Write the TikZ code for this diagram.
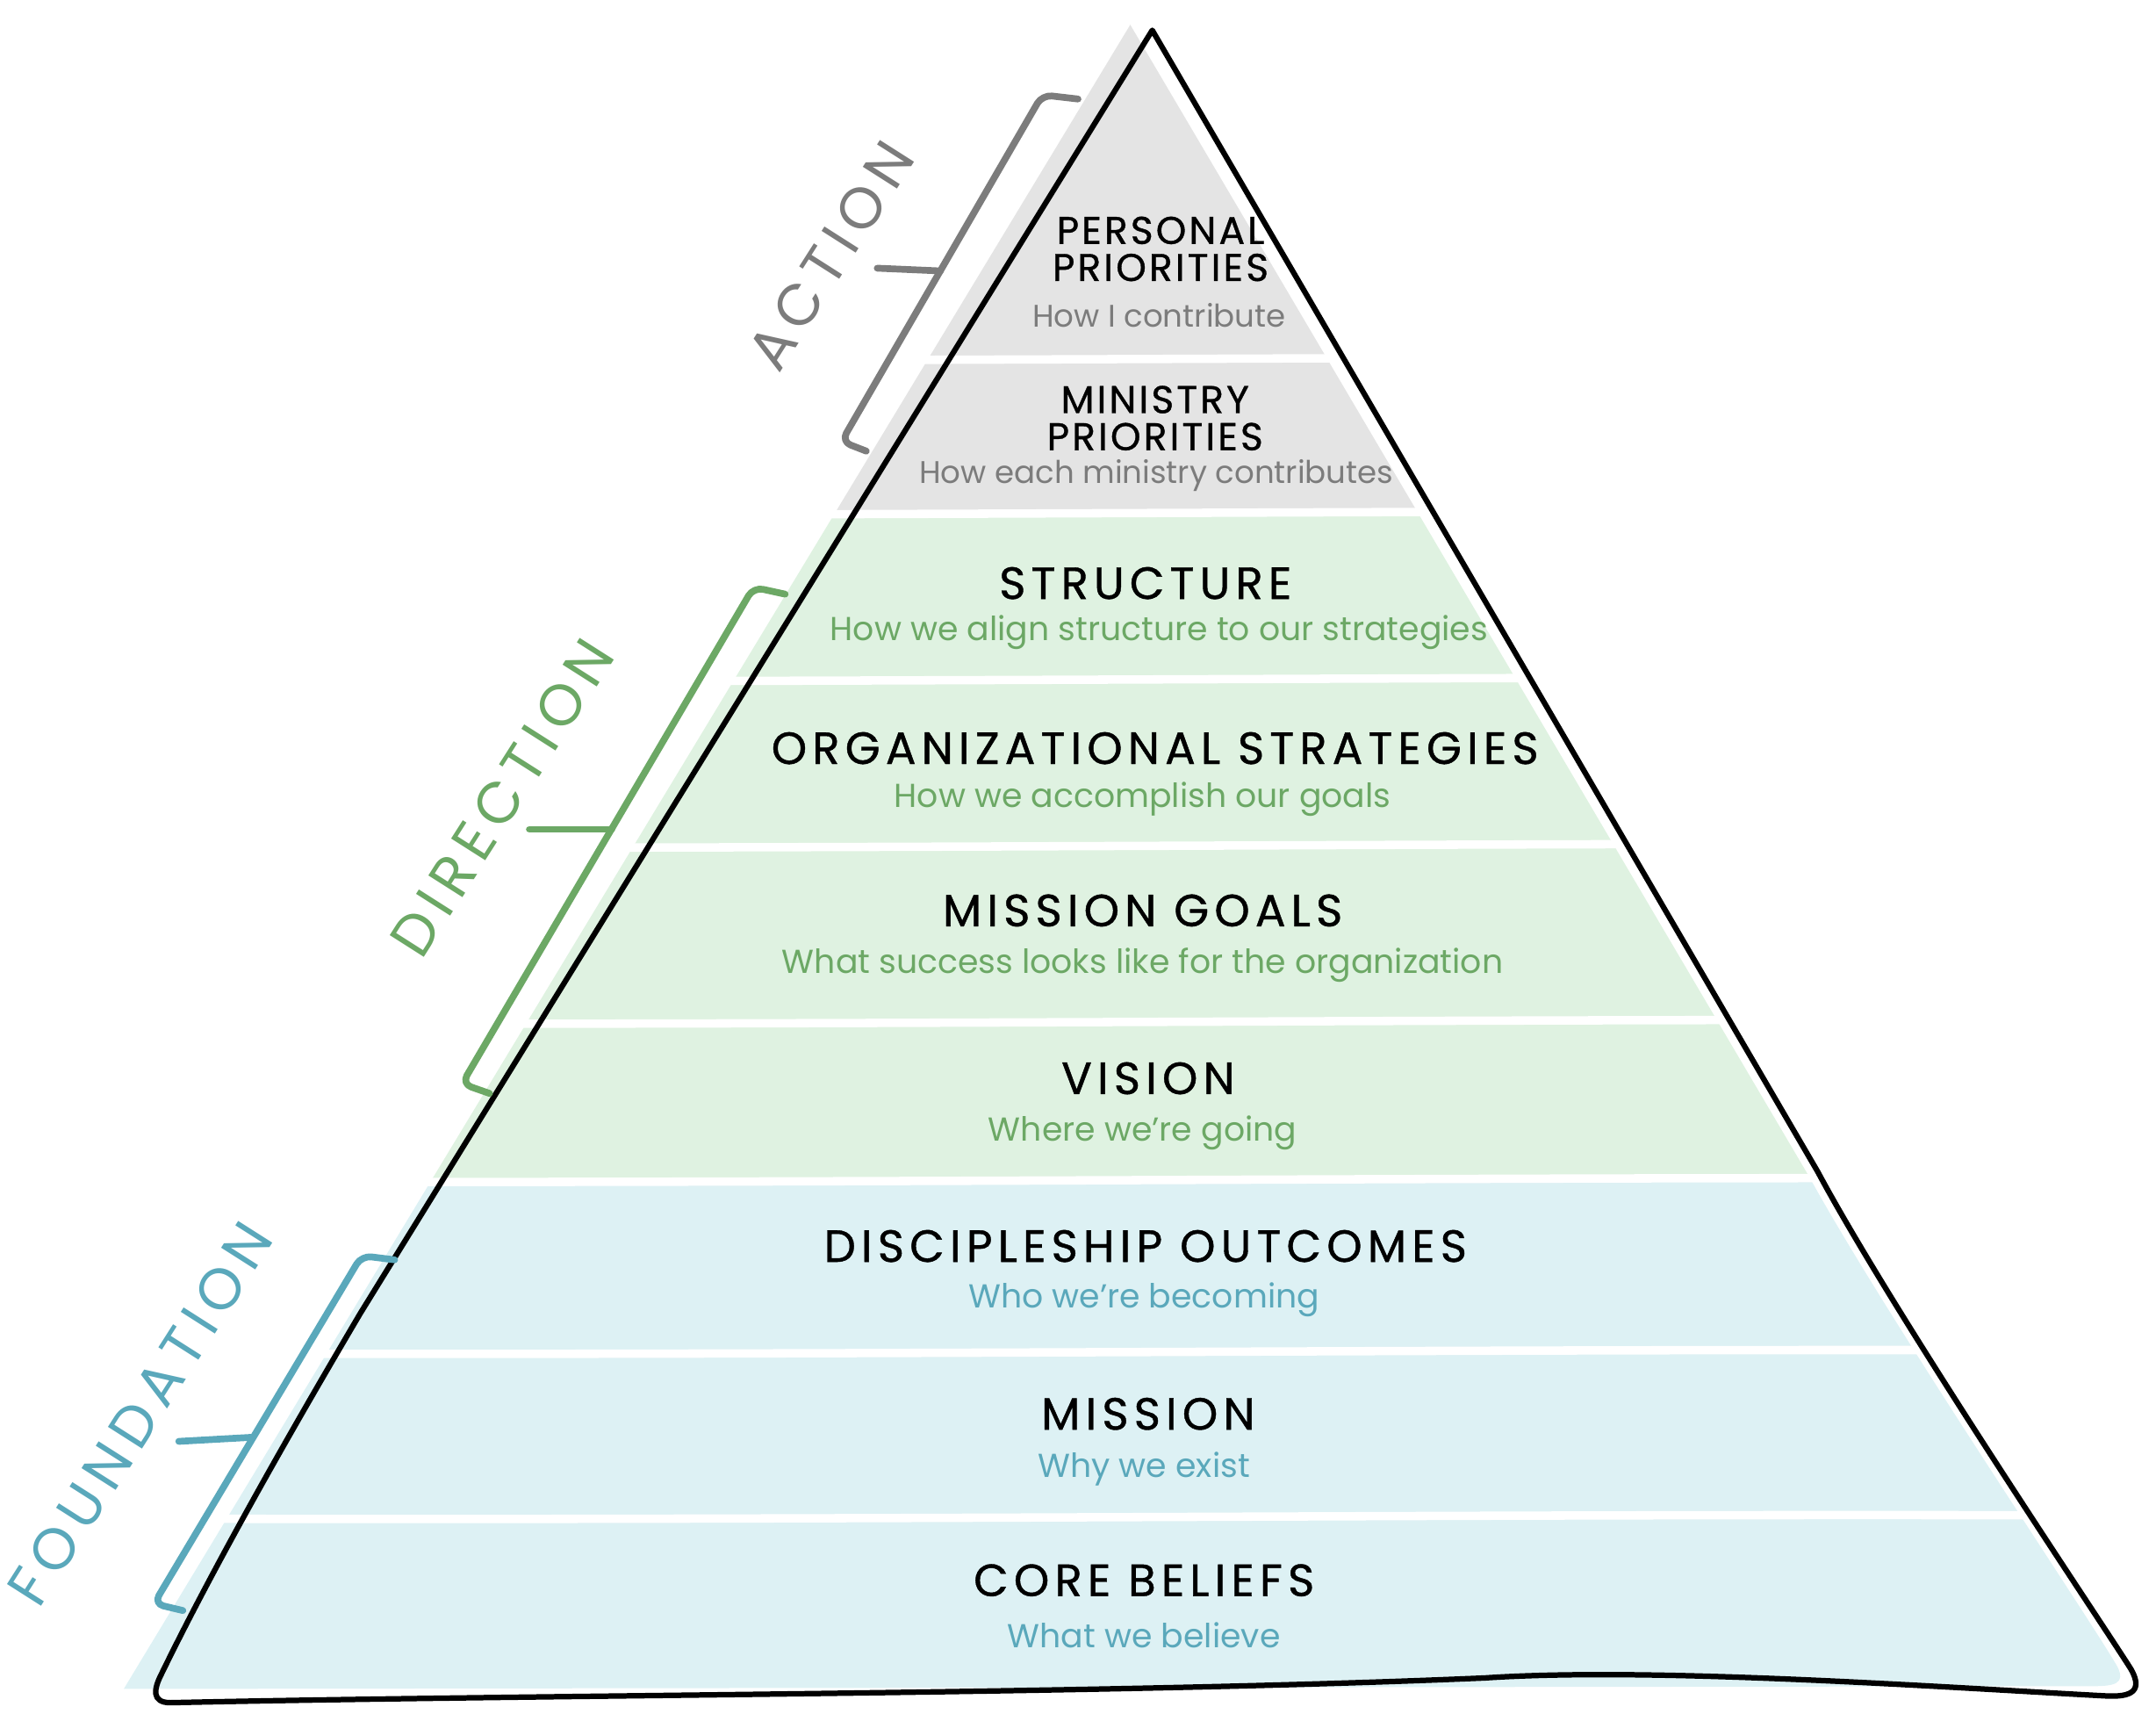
\documentclass[tikz,border=0pt]{standalone}
\usepackage{fontspec}
\setmainfont{Poppins}
\newfontfamily\ttlfont[LetterSpace=12,FakeBold=0.8]{Poppins}
\newfontfamily\ttlsmallfont[LetterSpace=7,FakeBold=0.8]{Poppins}
\newfontfamily\sidefont[LetterSpace=14]{Poppins}
\definecolor{actfill}{HTML}{E4E4E4}
\definecolor{actcol}{HTML}{7C7C7C}
\definecolor{dirfill}{HTML}{DFF2E1}
\definecolor{dircol}{HTML}{6CA865}
\definecolor{fndfill}{HTML}{DDF1F4}
\definecolor{fndcol}{HTML}{5AA8BB}
\tikzset{
  ttl/.style={font=\ttlfont\fontsize{14}{15}\selectfont, text=black, inner sep=0pt},
  ttlsmall/.style={font=\ttlsmallfont\fontsize{12}{11.5}\selectfont, text=black, inner sep=0pt, align=center},
  sub/.style={font=\fontsize{10.3}{12}\selectfont, inner sep=0pt},
  subsmall/.style={font=\fontsize{9.7}{12}\selectfont, inner sep=0pt},
  side/.style={font=\sidefont\fontsize{18}{20}\selectfont, rotate=57.5, inner sep=0pt},
  brk/.style={line width=2.1pt, line cap=round, line join=round, rounded corners=3pt},
  gap/.style={white, line width=2.6pt},
}
\begin{document}
\begin{tikzpicture}[x=0.015cm, y=-0.015cm]
  \useasboundingbox (0,0) rectangle (1568,1246);
  % coloured bands
  \begin{scope}
    \clip (822,18) -- (1316,856) .. controls (1372,958) and (1522,1180) .. (1540,1212)
      .. controls (1546,1224) and (1538,1226) .. (1522,1226) -- (90,1228) -- cycle;
    \fill[actfill] (0,0) rectangle (1568,372);
    \fill[dirfill] (0,372) rectangle (1568,857);
    \fill[fndfill] (0,857) rectangle (1568,1246);
  \end{scope}
  \foreach \y in {261,373,494,615,743,858,983,1103}
    \draw[gap] (60,\y+1) .. controls (600,\y+3) and (1100,\y-3) .. (1560,\y-1);
  % outline
  \draw[line width=1.7pt, line join=round] (838,22) -- (1322,852)
    .. controls (1380,960) and (1532,1185) .. (1550,1214)
    .. controls (1560,1232) and (1546,1234) .. (1530,1233)
    .. controls (1400,1226) and (1200,1212) .. (1080,1220)
    .. controls (800,1232) and (400,1232) .. (124,1238)
    .. controls (110,1238) and (112,1228) .. (117,1218)
    .. controls (150,1150) and (200,1060) .. (262,955) -- cycle;

  % levels
  \node[ttlsmall] (personal) at (844,181) {PERSONAL\\PRIORITIES};
  \node[subsmall, text=actcol] (personalsub) at (843,229) {How I contribute};
  \node[ttlsmall] (ministry) at (840,304) {MINISTRY\\PRIORITIES};
  \node[subsmall, text=actcol] (ministrysub) at (841,346) {How each ministry contributes};
  \node[ttl] (structure) at (833,424) {STRUCTURE};
  \node[sub, text=dircol] (structuresub) at (843,460) {How we align structure to our strategies};
  \node[ttl] (strategies) at (840,544) {ORGANIZATIONAL STRATEGIES};
  \node[sub, text=dircol] (strategiessub) at (831,581) {How we accomplish our goals};
  \node[ttl] (goals) at (831,662) {MISSION GOALS};
  \node[sub, text=dircol] (goalssub) at (831,702) {What success looks like for the organization};
  \node[ttl] (vision) at (835,784) {VISION};
  \node[sub, text=dircol] (visionsub) at (831,824) {Where we're going};
  \node[ttl] (outcomes) at (833,906) {DISCIPLESHIP OUTCOMES};
  \node[sub, text=fndcol] (outcomessub) at (832,945) {Who we're becoming};
  \node[ttl] (mission) at (835,1028) {MISSION};
  \node[sub, text=fndcol] (missionsub) at (832,1068) {Why we exist};
  \node[ttl] (beliefs) at (832,1149) {CORE BELIEFS};
  \node[sub, text=fndcol] (beliefssub) at (832,1189) {What we believe};

  % brackets
  \draw[brk, actcol] (784,72) -- (758,69) -- (612,321) -- (630,328);
  \draw[brk, actcol] (638,195) -- (684,197);
  \node[side, text=actcol] (action) at (604,186) {ACTION};
  \draw[brk, dircol] (571,432) -- (548,427) -- (336,788) -- (356,795);
  \draw[brk, dircol] (385,603) -- (445,603);
  \node[side, text=dircol] (direction) at (365,580) {DIRECTION};
  \draw[brk, fndcol] (287,916) -- (263,913) -- (112,1166) -- (133,1171);
  \draw[brk, fndcol] (130,1048) -- (184,1045);
  \node[side, text=fndcol] (foundation) at (102,1028) {FOUNDATION};
\end{tikzpicture}
\end{document}
